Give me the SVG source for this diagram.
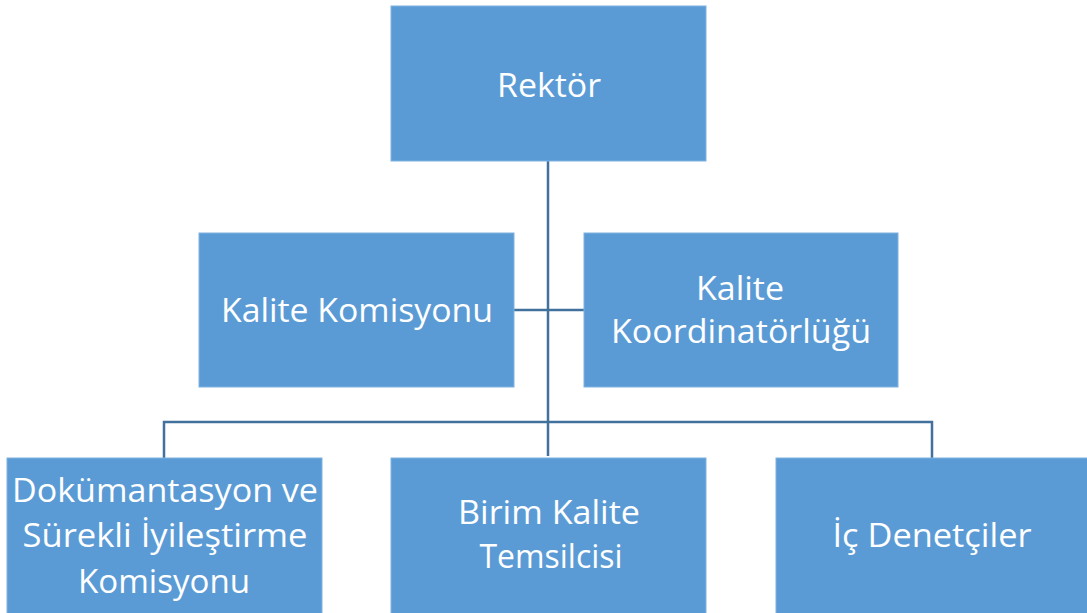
<svg xmlns="http://www.w3.org/2000/svg" width="1087" height="613" viewBox="0 0 1087 613">
<style>
.box{fill:#5B9BD5;stroke:#7FB2E0;stroke-width:1}
.lbl{fill:#FFFFFF;font-family:"Open Sans","Noto Sans","DejaVu Sans",sans-serif;font-size:33px;text-anchor:middle}
.conn{fill:none;stroke:#41719C;stroke-width:2.5}
</style>
<rect width="1087" height="613" fill="#FFFFFF"/>
<g id="connectors">
<path class="conn" d="M548,161 V456"/>
<path class="conn" d="M514,310 H584"/>
<path class="conn" d="M164,458 V422 H932 V458"/>
</g>
<g id="rektor">
<rect class="box" x="391" y="6" width="315" height="155"/>
<text class="lbl" x="549" y="97" textLength="104" lengthAdjust="spacingAndGlyphs">Rektör</text>
</g>
<g id="kalite-komisyonu">
<rect class="box" x="199" y="233" width="315" height="154"/>
<text class="lbl" x="357" y="322" textLength="272" lengthAdjust="spacingAndGlyphs">Kalite Komisyonu</text>
</g>
<g id="kalite-koordinatorlugu">
<rect class="box" x="584" y="233" width="314" height="154"/>
<text class="lbl" x="740" y="300" textLength="88" lengthAdjust="spacingAndGlyphs">Kalite</text>
<text class="lbl" x="741" y="343" textLength="260" lengthAdjust="spacingAndGlyphs">Koordinatörlüğü</text>
</g>
<g id="dokumantasyon">
<rect class="box" x="7" y="458" width="315" height="160"/>
<text class="lbl" x="165" y="502" textLength="306" lengthAdjust="spacingAndGlyphs">Dokümantasyon ve</text>
<text class="lbl" x="165" y="547" textLength="285" lengthAdjust="spacingAndGlyphs">Sürekli İyileştirme</text>
<text class="lbl" x="164" y="593" textLength="172" lengthAdjust="spacingAndGlyphs">Komisyonu</text>
</g>
<g id="birim-kalite">
<rect class="box" x="391" y="458" width="315" height="160"/>
<text class="lbl" x="549" y="524" textLength="182" lengthAdjust="spacingAndGlyphs">Birim Kalite</text>
<text class="lbl" x="551" y="568" textLength="143" lengthAdjust="spacingAndGlyphs">Temsilcisi</text>
</g>
<g id="ic-denetciler">
<rect class="box" x="776" y="458" width="315" height="160"/>
<text class="lbl" x="932" y="547" textLength="199" lengthAdjust="spacingAndGlyphs">İç Denetçiler</text>
</g>
</svg>
